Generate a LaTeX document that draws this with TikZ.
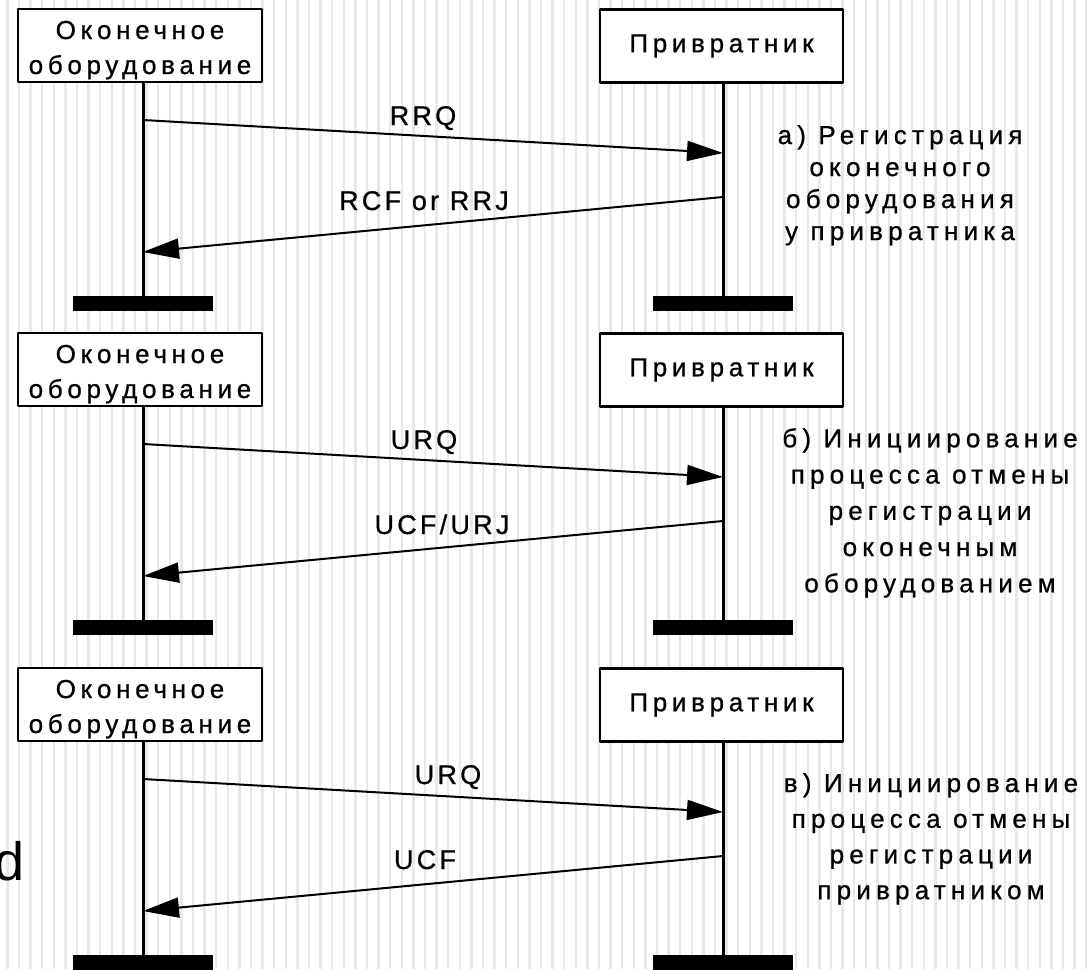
\documentclass[tikz,border=0pt]{standalone}
\usepackage{fontspec}
\setmainfont{Liberation Sans}
\newfontfamily\spacedfont{Liberation Sans}[LetterSpace=18, FakeBold=0.8]
\newfontfamily\msgfont{Liberation Sans}[LetterSpace=12, FakeBold=0.8]
\newfontfamily\notefont{Liberation Sans}[LetterSpace=20, FakeBold=0.8]
\usetikzlibrary{arrows.meta}
\tikzset{
  box/.style={draw, fill=white, line width=2.2pt, minimum width=244pt, minimum height=73pt,
    inner sep=0pt, align=center, font={\spacedfont\fontsize{26}{35}\selectfont}},
  ebox/.style={box, text height=61pt, text depth=4pt},
  life/.style={line width=3pt},
  bar/.style={fill=black, minimum width=140pt, minimum height=15pt, inner sep=0pt},
  msg/.style={line width=2pt, -{Triangle[length=36pt, width=20pt]}},
  lbl/.style={anchor=base, inner sep=0pt, font={\msgfont\fontsize{27}{30}\selectfont}},
  note/.style={anchor=north, inner sep=0pt, align=center},
  stripe/.style={black!9, line width=2.5pt}
}
\begin{document}
\begin{tikzpicture}[x=1pt, y=-1pt, line join=round]
\useasboundingbox (0,0) rectangle (1092,969);
\fill[white] (0,0) rectangle (1092,969);
\foreach \x in {7.4,19,...,1092} \draw[stripe] (\x,0) -- (\x,969);

% three exchanges, one under the other
\foreach \dy/\i/\ma/\mb/\xa/\xb in {0/1/RRQ/RCF or RRJ/423/424, 324/2/URQ/{UCF/URJ}/424/442, 659/3/URQ/UCF/448/425} {
  \node[ebox] (e\i) at (140,45.5+\dy) {Оконечное\\оборудование};
  \node[box, minimum width=243pt] (g\i) at (721.5,46+\dy) {Привратник};
  \node[bar] (el\i) at (143,303.5+\dy) {};
  \node[bar] (gl\i) at (723,303.5+\dy) {};
  \draw[life] (el\i) -- (el\i |- e\i.south);
  \draw[life] (gl\i) -- (gl\i |- g\i.south);
  \coordinate (a\i) at (143,120+\dy); \coordinate (b\i) at (723,153+\dy);
  \coordinate (c\i) at (723,197+\dy); \coordinate (d\i) at (143,252+\dy);
  \draw[msg] (a\i) -- (b\i);
  \draw[msg] (c\i) -- (d\i);
  \node[lbl] (rq\i) at (\xa,125+\dy) {\ma};
  \node[lbl] (rs\i) at (\xb,210+\dy) {\mb};
}

\node[note, font={\notefont\fontsize{26}{32}\selectfont}] (na) at (900,125)
  {а) Регистрация\\оконечного\\оборудования\\у привратника};
\node[note, font={\notefont\fontsize{26}{36.25}\selectfont}] (nb) at (930,428)
  {б) Инициирование\\процесса отмены\\регистрации\\оконечным\\оборудованием};
\node[note, font={\notefont\fontsize{26}{35.7}\selectfont}] (nc) at (931,773)
  {в) Инициирование\\процесса отмены\\регистрации\\привратником};

\node[anchor=base west, inner sep=0pt, font=\fontsize{54}{60}\selectfont] (stray) at (-6,880) {d};
\end{tikzpicture}
\end{document}
